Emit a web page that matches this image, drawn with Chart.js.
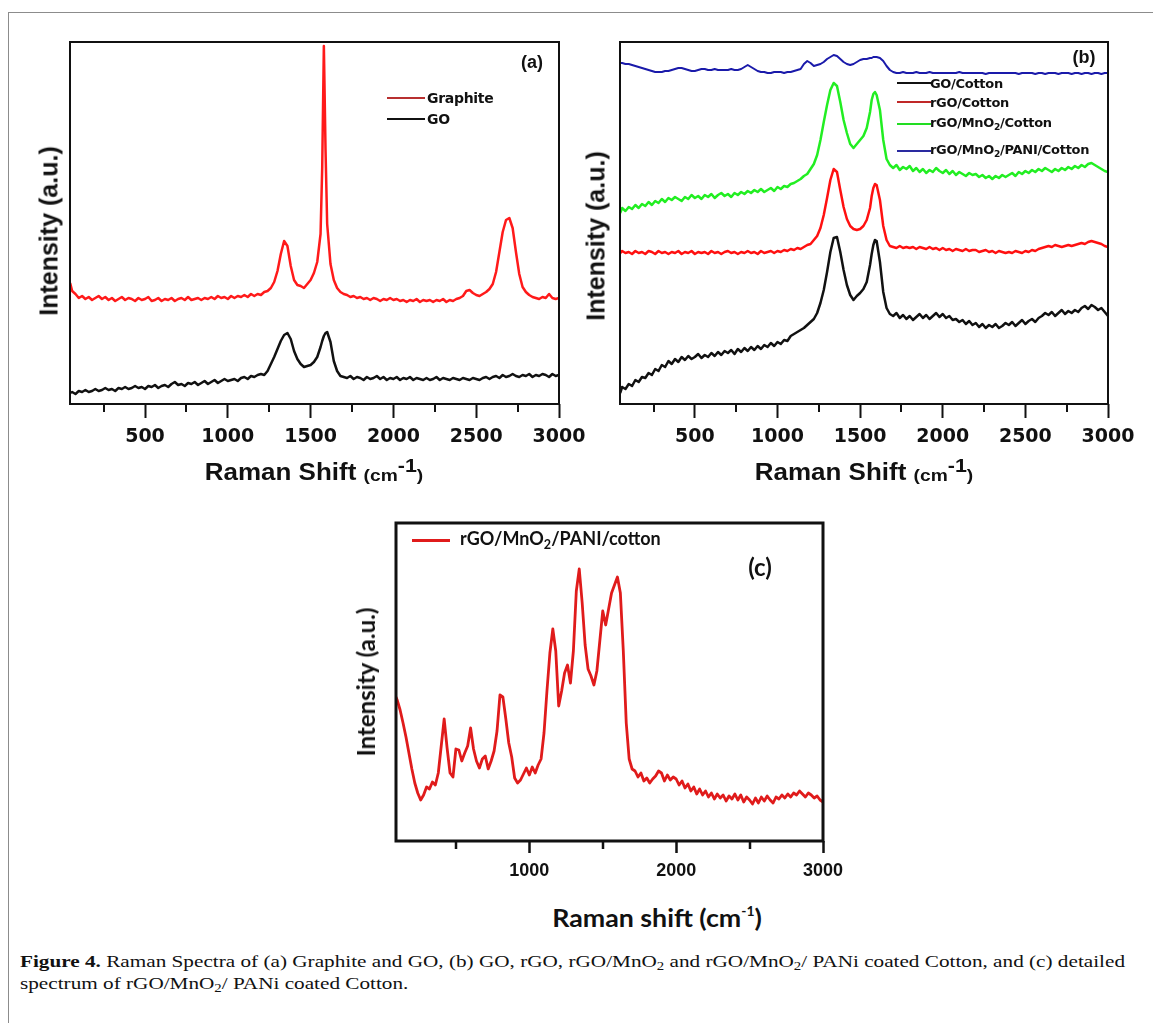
<!DOCTYPE html>
<html><head><meta charset="utf-8">
<script src="https://cdn.jsdelivr.net/npm/chart.js@4.4.1/dist/chart.umd.min.js"></script>
<style>
html,body{margin:0;padding:0;background:#fff;}
body{width:1153px;height:1023px;position:relative;overflow:hidden;font-family:"Liberation Sans",Arial,sans-serif;}
.frame{position:absolute;left:8px;top:12px;width:1170px;height:1030px;border-top:1.5px solid #8c8c8c;border-left:1.5px solid #8c8c8c;}
canvas{position:absolute;}
.t{position:absolute;white-space:nowrap;color:#111;line-height:1;}
.c{transform:translate(-50%,-50%);}
.cx{transform:translate(-50%,-50%) scaleX(1.13);}
.v{transform:translate(-50%,-50%) rotate(-90deg);}
.l{transform:translateY(-50%);}
.ab{font-weight:bold;}
.dj{font-family:"DejaVu Sans",sans-serif;font-weight:bold;}
.sub{font-size:70%;vertical-align:-0.3em;}
.ln{position:absolute;height:2px;}
.lato{font-family:Lato,"Liberation Sans",sans-serif;font-weight:700;}
.cap{position:absolute;left:20px;top:951px;font-family:"Liberation Serif","DejaVu Serif",serif;font-size:17px;line-height:22px;color:#111;white-space:nowrap;transform-origin:0 0;}
.cap sub{font-size:70%;vertical-align:-0.25em;line-height:0;}
</style></head>
<body>
<div class="frame"></div>
<canvas id="chartA" width="600" height="460" style="left:0;top:0"></canvas>
<canvas id="chartB" width="593" height="460" style="left:560px;top:0"></canvas>
<canvas id="chartC" width="520" height="390" style="left:340px;top:500px"></canvas>

<!-- panel (a) texts -->
<div class="t ab v" style="left:49px;top:231px;font-size:25px;">Intensity (a.u.)</div>
<div class="t ab cx" style="left:314px;top:470px;font-size:23px;">Raman Shift <span style="font-size:17px">(cm<sup style="font-size:19px;vertical-align:0.45em">-1</sup>)</span></div>
<div class="t ab c" style="left:532px;top:62px;font-size:18px;">(a)</div>
<div class="ln" style="left:387px;top:97px;width:38px;background:#b83030"></div>
<div class="t dj l" style="left:427px;top:98px;font-size:14px;letter-spacing:-0.3px">Graphite</div>
<div class="ln" style="left:387px;top:118px;width:38px;background:#111"></div>
<div class="t dj l" style="left:427px;top:119px;font-size:14px;letter-spacing:-0.3px">GO</div>

<!-- panel (b) texts -->
<div class="t ab v" style="left:596px;top:236px;font-size:25px;">Intensity (a.u.)</div>
<div class="t ab cx" style="left:864px;top:470px;font-size:23px;">Raman Shift <span style="font-size:17px">(cm<sup style="font-size:19px;vertical-align:0.45em">-1</sup>)</span></div>
<div class="t ab c" style="left:1084px;top:57px;font-size:18px;">(b)</div>
<div class="ln" style="left:897px;top:82px;width:34px;background:#111"></div>
<div class="t dj l" style="left:930px;top:83px;font-size:13px;letter-spacing:-0.3px">GO/Cotton</div>
<div class="ln" style="left:897px;top:101px;width:34px;background:#c02828"></div>
<div class="t dj l" style="left:930px;top:102px;font-size:13px;letter-spacing:-0.3px">rGO/Cotton</div>
<div class="ln" style="left:897px;top:123px;width:34px;background:#22dd22"></div>
<div class="t dj l" style="left:930px;top:124px;font-size:13px;letter-spacing:-0.3px">rGO/MnO<span class="sub">2</span>/Cotton</div>
<div class="ln" style="left:897px;top:150px;width:34px;background:#2a2aa0"></div>
<div class="t dj l" style="left:930px;top:151px;font-size:13px;letter-spacing:-0.3px">rGO/MnO<span class="sub">2</span>/PANI/Cotton</div>

<!-- panel (c) texts -->
<div class="t lato v" style="left:366px;top:682px;font-size:24px;">Intensity (a.u.)</div>
<div class="t lato c" style="left:657px;top:917px;font-size:25px;transform:translate(-50%,-50%) scaleX(1.07);">Raman shift (cm<sup style="font-size:13px;vertical-align:0.8em">-1</sup>)</div>
<div class="t lato c" style="left:760px;top:567px;font-size:24px;">(c)</div>
<div class="ln" style="left:412px;top:539px;width:38px;height:3px;background:#e01b1b"></div>
<div class="t lato l" style="left:460px;top:540px;font-size:18px;">rGO/MnO<span class="sub">2</span>/PANI/cotton</div>

<div class="cap" id="cap"><span id="capLine1"><b>Figure 4.</b> Raman Spectra of (a) Graphite and GO, (b) GO, rGO, rGO/MnO<sub>2</sub> and rGO/MnO<sub>2</sub>/ PANi coated Cotton, and (c) detailed</span><br>spectrum of rGO/MnO<sub>2</sub>/ PANi coated Cotton.</div>

<script>
// ---------- data ----------
const ramanShiftAB = [
  48,60,80,100,120,140,160,180,200,220,
  240,260,280,300,320,340,360,380,400,420,
  440,460,480,500,520,540,560,580,600,620,
  640,660,680,700,720,740,760,780,800,820,
  840,860,880,900,920,940,960,980,1000,1020,
  1040,1060,1080,1100,1120,1140,1160,1180,1200,1220,
  1240,1260,1280,1300,1320,1340,1360,1380,1400,1420,
  1440,1460,1480,1500,1520,1540,1560,1570,1580,1590,
  1600,1620,1640,1660,1680,1700,1720,1740,1760,1780,
  1800,1820,1840,1860,1880,1900,1920,1940,1960,1980,
  2000,2020,2040,2060,2080,2100,2120,2140,2160,2180,
  2200,2220,2240,2260,2280,2300,2320,2340,2360,2380,
  2400,2420,2440,2460,2480,2500,2520,2540,2560,2580,
  2600,2620,2640,2660,2680,2700,2720,2740,2760,2780,
  2800,2820,2840,2860,2880,2900,2920,2940,2960,2980,
  3000];

const graphiteA = [
  121,113,110,106,108,105,107,104,106,108,
  105,107,104,106,103,105,107,104,106,105,
  103,106,104,105,107,103,104,106,103,105,
  104,106,103,105,106,104,107,104,105,106,
  104,106,105,107,105,108,106,107,105,108,
  106,108,107,109,107,110,108,110,109,112,
  113,116,122,133,150,163,158,138,124,119,
  118,116,120,124,131,142,170,236,358,255,
  180,140,124,116,112,110,109,107,108,106,
  107,105,106,104,106,105,103,105,104,106,
  104,105,103,104,102,104,103,105,102,104,
  103,104,102,104,103,105,102,104,103,105,
  106,108,113,114,111,109,108,110,112,115,
  120,132,152,172,184,186,176,152,130,117,
  112,109,107,106,105,107,106,110,106,105,
  106];

const goA = [
  11,12,10,13,12,14,12,13,15,13,
  14,16,14,15,13,16,15,17,15,16,
  18,16,17,15,18,17,19,16,18,19,
  17,20,22,19,20,18,21,20,22,19,
  21,23,20,22,24,21,23,25,23,24,
  25,23,26,27,25,28,27,29,30,29,
  33,40,47,55,63,69,71,65,53,45,
  40,37,38,39,42,47,57,63,68,71,
  72,62,43,33,28,27,26,28,25,27,
  26,24,27,25,26,28,25,27,24,26,
  25,27,24,26,25,27,24,26,25,24,
  26,24,25,27,24,26,25,24,26,25,
  24,26,25,24,26,25,24,26,27,25,
  27,28,26,29,27,28,30,28,27,29,
  28,30,27,29,28,30,29,27,30,28,
  29];

const goCottonB = [
  11,17,15,20,18,24,22,27,26,31,
  29,35,33,39,37,43,40,45,42,47,
  44,48,45,47,50,46,49,47,51,48,
  52,49,53,51,54,50,55,52,56,53,
  57,54,58,55,59,57,61,58,62,60,
  64,63,68,70,72,74,76,79,82,85,
  91,101,114,132,152,166,167,152,134,119,
  109,104,108,111,115,122,139,150,159,164,
  163,142,112,96,90,88,91,86,89,85,
  88,84,87,90,86,89,85,88,91,87,
  90,86,88,84,85,82,84,80,83,79,
  81,77,80,76,79,77,80,76,78,81,
  79,82,78,81,84,80,83,85,82,86,
  88,91,89,92,88,91,94,90,93,91,
  94,92,96,98,95,99,97,94,96,92,
  88];

const rgoCottonB = [
  151,153,151,152,150,153,151,152,150,153,
  152,150,153,151,152,150,152,151,153,150,
  152,151,153,150,152,151,152,150,153,151,
  152,150,152,153,151,152,150,152,151,153,
  151,152,150,153,151,152,153,151,153,152,
  154,153,155,154,156,155,157,159,160,164,
  168,176,189,206,224,235,232,214,197,185,
  178,175,174,175,178,184,196,208,216,220,
  219,204,178,164,158,157,156,158,156,157,
  156,157,155,157,156,155,157,155,156,154,
  156,154,155,153,155,154,153,155,153,154,
  154,152,153,154,152,153,151,153,152,151,
  152,151,153,152,151,153,152,154,153,155,
  156,157,158,157,159,158,157,158,159,158,
  159,160,161,160,162,163,162,161,160,158,
  157];

const rgoMnO2CottonB = [
  191,196,193,197,195,199,196,200,198,202,
  199,203,201,205,202,206,204,207,205,203,
  207,205,209,206,208,205,209,207,210,206,
  209,211,208,210,207,211,209,212,210,213,
  211,214,212,215,212,214,216,213,217,215,
  218,217,220,221,223,225,228,230,235,240,
  249,264,282,299,314,321,318,302,284,271,
  260,256,260,264,268,276,292,304,310,312,
  309,294,264,245,239,236,239,234,237,235,
  238,233,236,232,235,231,234,232,236,233,
  231,234,230,233,229,232,230,228,231,229,
  230,227,229,226,228,225,228,226,229,227,
  229,231,228,232,230,233,231,234,232,235,
  233,236,234,232,235,233,236,234,237,235,
  238,236,239,237,240,241,239,237,235,233,
  232];

const rgoMnO2PaniCottonB = [
  341,341,340,340,339,338,337,336,335,334,
  333,332,332,332,333,333,334,335,336,336,
  335,334,333,333,334,335,335,334,334,335,
  334,334,334,334,335,334,334,335,337,339,
  337,335,333,332,332,331,331,332,332,332,
  331,332,332,333,334,335,340,343,341,338,
  339,340,342,345,347,349,348,345,342,340,
  339,340,342,344,345,345,346,346,347,347,
  347,346,343,338,334,332,331,331,332,331,
  331,331,332,331,331,331,332,331,331,331,
  331,331,331,331,331,332,331,331,331,331,
  331,331,331,330,331,331,331,331,331,331,
  331,331,331,330,331,331,331,331,330,331,
  331,330,331,331,331,330,331,331,331,330,
  331,331,330,331,331,330,331,331,330,331,
  331];

const ramanShiftC = [
  92,
  100,120,140,160,180,200,220,240,260,280,
  300,320,340,360,380,400,420,440,460,480,
  500,520,540,560,580,600,620,640,660,680,
  700,720,740,760,780,800,820,840,860,880,
  900,920,940,960,980,1000,1020,1040,1060,1080,
  1100,1120,1140,1160,1180,1200,1220,1240,1260,1280,
  1300,1320,1340,1360,1380,1400,1420,1440,1460,1480,
  1500,1520,1540,1560,1580,1600,1620,1640,1660,1680,
  1700,1720,1740,1760,1780,1800,1820,1840,1860,1880,
  1900,1920,1940,1960,1980,2000,2020,2040,2060,2080,
  2100,2120,2140,2160,2180,2200,2220,2240,2260,2280,
  2300,2320,2340,2360,2380,2400,2420,2440,2460,2480,
  2500,2520,2540,2560,2580,2600,2620,2640,2660,2680,
  2700,2720,2740,2760,2780,2800,2820,2840,2860,2880,
  2900,2920,2940,2960,2980,3000];

const rgoMnO2PaniCottonC = [
  144,
  141,131,118,104,88,72,58,48,41,46,
  54,52,59,56,68,95,122,93,68,64,
  92,91,80,88,95,113,92,80,73,82,
  85,72,80,90,110,146,144,122,98,84,
  63,58,61,67,73,66,74,68,76,82,
  108,150,188,212,190,135,150,168,176,158,
  190,250,272,238,196,172,165,156,170,200,
  230,216,232,248,256,264,248,190,118,82,
  72,70,64,68,60,63,58,62,65,70,
  68,60,66,61,64,62,56,60,53,57,
  50,54,47,52,46,50,44,48,42,47,
  43,46,40,45,42,47,41,46,39,44,
  41,37,43,38,44,40,45,41,38,44,
  42,46,43,47,44,48,46,50,47,44,
  48,46,43,45,41,39];

const majorTicksAB = [500, 1000, 1500, 2000, 2500, 3000];
const minorTicksAB = [250, 750, 1250, 1750, 2250, 2750];
const majorTicksC = [1000, 2000, 3000];
const minorTicksC = [500, 1500, 2500];

// ---------- helpers ----------
function pts(xs, ys) { return xs.map((x, i) => ({ x: x, y: ys[i] })); }

const panelBox = {
  id: 'panelBox',
  afterDatasetsDraw(chart, args, o) {
    const ctx = chart.ctx, a = chart.chartArea, x = chart.scales.x;
    ctx.save();
    ctx.strokeStyle = '#111';
    ctx.lineWidth = o.lineWidth;
    ctx.strokeRect(a.left, a.top, a.right - a.left, a.bottom - a.top);
    ctx.lineWidth = o.tickWidth;
    ctx.beginPath();
    o.minor.forEach(v => {
      const px = Math.round(x.getPixelForValue(v));
      ctx.moveTo(px, a.bottom);
      ctx.lineTo(px, a.bottom + o.minorLength);
    });
    ctx.stroke();
    ctx.restore();
  }
};

function makeChart(id, c) {
  return new Chart(document.getElementById(id), {
    type: 'line',
    data: { datasets: c.datasets.map(d => ({
      data: d.data, borderColor: d.color, borderWidth: d.width,
      pointRadius: 0, fill: false, tension: 0, borderJoinStyle: 'round' })) },
    options: {
      responsive: false, animation: false, devicePixelRatio: 1,
      layout: { padding: c.padding },
      plugins: {
        legend: { display: false }, tooltip: { enabled: false },
        panelBox: { lineWidth: c.boxWidth, tickWidth: c.tickWidth, minor: c.minor, minorLength: c.minorLen }
      },
      scales: {
        x: {
          type: 'linear', min: c.xMin, max: c.xMax,
          afterBuildTicks: s => { s.ticks = c.major.map(v => ({ value: v })); },
          afterFit: s => { s.height = c.axisH; },
          grid: { display: true, drawOnChartArea: false, drawTicks: true, tickLength: c.majorLen,
                  tickWidth: c.tickWidth, tickColor: '#111' },
          border: { display: false },
          ticks: { padding: c.tickPad, color: '#111', font: c.font, maxRotation: 0, autoSkip: false,
                   callback: v => String(v) }
        },
        y: { display: false, min: 0, max: c.yMax }
      }
    },
    plugins: [panelBox]
  });
}

makeChart('chartA', {
  datasets: [
    { data: pts(ramanShiftAB, graphiteA), color: '#ff1a1a', width: 2.5 },
    { data: pts(ramanShiftAB, goA), color: '#111111', width: 2.5 }
  ],
  padding: { left: 70, top: 42, right: 41, bottom: 0 },
  axisH: 56, xMin: 47, xMax: 3000, yMax: 362,
  major: majorTicksAB, minor: minorTicksAB, majorLen: 14, minorLen: 8, tickWidth: 2, boxWidth: 2,
  tickPad: 8, font: { family: 'DejaVu Sans', weight: 'bold', size: 19 }
});

makeChart('chartB', {
  datasets: [
    { data: pts(ramanShiftAB, goCottonB), color: '#111111', width: 2.5 },
    { data: pts(ramanShiftAB, rgoCottonB), color: '#ff1010', width: 2.5 },
    { data: pts(ramanShiftAB, rgoMnO2CottonB), color: '#22ee22', width: 2.5 },
    { data: pts(ramanShiftAB, rgoMnO2PaniCottonB), color: '#1a1aaa', width: 2 }
  ],
  padding: { left: 60, top: 42, right: 45, bottom: 0 },
  axisH: 56, xMin: 47, xMax: 3000, yMax: 362,
  major: majorTicksAB, minor: minorTicksAB, majorLen: 14, minorLen: 8, tickWidth: 2, boxWidth: 2,
  tickPad: 8, font: { family: 'DejaVu Sans', weight: 'bold', size: 19 }
});

makeChart('chartC', {
  datasets: [
    { data: pts(ramanShiftC, rgoMnO2PaniCottonC), color: '#e01b1b', width: 2.8 }
  ],
  padding: { left: 56, top: 23, right: 37, bottom: 0 },
  axisH: 49, xMin: 92, xMax: 3000, yMax: 318,
  major: majorTicksC, minor: minorTicksC, majorLen: 12, minorLen: 8, tickWidth: 2.5, boxWidth: 3,
  tickPad: 7, font: { family: 'Liberation Sans', weight: 'bold', size: 18 }
});

// stretch caption horizontally to the printed line length
(function () {
  const line = document.getElementById('capLine1');
  const w = line.getBoundingClientRect().width;
  if (w > 0) document.getElementById('cap').style.transform = 'scaleX(' + (1105 / w) + ')';
})();
</script>
</body></html>
